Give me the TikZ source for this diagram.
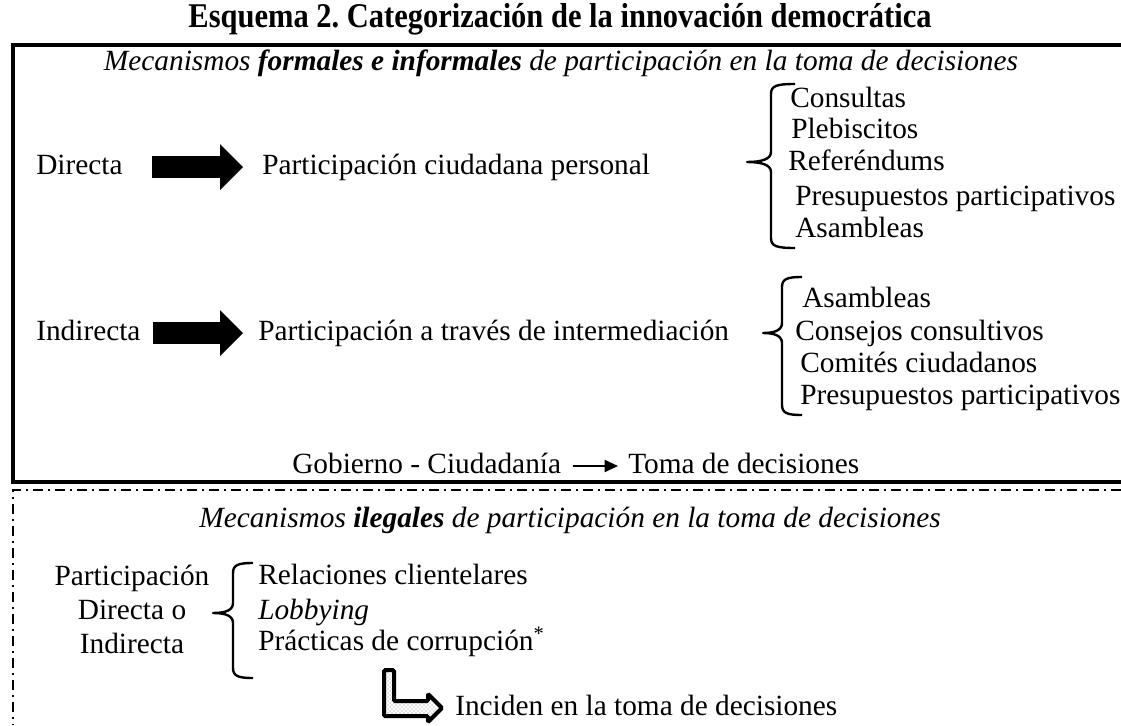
\documentclass[tikz,border=0pt]{standalone}
\usepackage{fontspec}
\setmainfont{Liberation Serif}
\newfontfamily\titlefont[FakeStretch=0.88]{Liberation Serif}
\usetikzlibrary{arrows.meta,patterns}

\begin{document}
\begin{tikzpicture}[
  x=0.75pt, y=-0.75pt,
  font=\fontsize{22}{25.5}\selectfont\frenchspacing,
  lbl/.style={anchor=west, inner sep=0pt, text height=15.4pt, text depth=4.4pt},
  ctr/.style={inner sep=0pt, text height=15.4pt, text depth=4.4pt},
  frame/.style={line width=3pt},
  dashdot/.style={line width=1.5pt, dash pattern=on 7.5pt off 3.75pt on 1.5pt off 3.75pt},
  curly/.style={line width=1.8pt, line join=round},
  bigarr/.style={-{Triangle[length=17.25pt, width=34.5pt, line width=0pt]}, line width=16.5pt},
  smallarr/.style={-{Triangle[length=10pt, width=9pt]}, line width=1.4pt},
  bentarr/.style={line width=3pt, rounded corners=1pt, pattern=crosshatch dots, pattern color=gray},
]
\useasboundingbox (0,0) rectangle (1121,725);

% title and frames
\node[inner sep=0pt, font=\fontsize{26}{28}\titlefont\bfseries\frenchspacing] (title) at (560,19) {Esquema 2. Categorización de la innovación democrática};
\draw[frame] (1121,45) -- (13,45) -- (13,482) -- (1121,482);
\draw[dashdot] (1121,490) -- (13,490) -- (13,725);

% formal and informal mechanisms
\node[ctr] (sub1) at (561,63) {\itshape Mecanismos \textbf{formales e informales} de participación en la toma de decisiones};

\node[lbl] (dir) at (36,167) {Directa};
\node[lbl] (pcp) at (262,167) {Participación ciudadana personal};
\node[lbl] (ind) at (36,333) {Indirecta};
\node[lbl] (pint) at (258,333) {Participación a través de intermediación};

\draw[bigarr, shorten <=22pt, shorten >=14.25pt] (dir.east) -- (pcp.west);
\draw[bigarr, shorten <=9pt, shorten >=11.25pt] (ind.east) -- (pint.west);

\draw[curly] (795,84) .. controls (776,84) and (771,86) .. (771,94) -- (771,152)
  .. controls (771,159) and (762,162) .. (747,162) .. controls (762,162) and (771,165) .. (771,172)
  -- (771,238) .. controls (771,246) and (776,248) .. (795,248);
\node[lbl] (c1) at (790,100) {Consultas};
\node[lbl] (c2) at (791,131) {Plebiscitos};
\node[lbl] (c3) at (788,163) {Referéndums};
\node[lbl] (c4) at (795,198) {Presupuestos participativos};
\node[lbl] (c5) at (795,230) {Asambleas};

\draw[curly] (802,277) .. controls (787,277) and (782,279) .. (782,287) -- (782,323)
  .. controls (782,330) and (775,333) .. (763,333) .. controls (775,333) and (782,336) .. (782,343)
  -- (782,405) .. controls (782,413) and (787,415) .. (802,415);
\node[lbl] (d1) at (802,300) {Asambleas};
\node[lbl] (d2) at (795,333) {Consejos consultivos};
\node[lbl] (d3) at (800,365) {Comités ciudadanos};
\node[lbl] (d4) at (800,397) {Presupuestos participativos};

\node[lbl] (gob) at (292,466) {Gobierno - Ciudadanía};
\node[lbl] (toma) at (628,466) {Toma de decisiones};
\draw[smallarr, shorten <=8.5pt, shorten >=7.5pt] (gob.east) -- (toma.west);

% illegal mechanisms
\node[ctr] (sub2) at (570,520) {\itshape Mecanismos \textbf{ilegales} de participación en la toma de decisiones};

\node[inner sep=0pt, align=center] (pdi) at (132,609) {Participación\\Directa o\\Indirecta};
\draw[curly] (253,563) .. controls (238,563) and (233,565) .. (233,573) -- (233,603)
  .. controls (233,610) and (226,613) .. (213,613) .. controls (226,613) and (233,616) .. (233,623)
  -- (233,668) .. controls (233,676) and (238,678) .. (253,678);
\node[lbl] (r1) at (258,577) {Relaciones clientelares};
\node[lbl] (r2) at (258,612) {\itshape Lobbying};
\node[lbl] (r3) at (258,643) {Prácticas de corrupción\textsuperscript{*}};

\draw[bentarr] (384,670) -- (394,670) -- (394,701) -- (428,701) -- (428,694) -- (442,708)
  -- (428,722) -- (428,716) -- (384,716) -- cycle;
\node[lbl] (inc) at (455,708) {Inciden en la toma de decisiones};
\end{tikzpicture}
\end{document}
